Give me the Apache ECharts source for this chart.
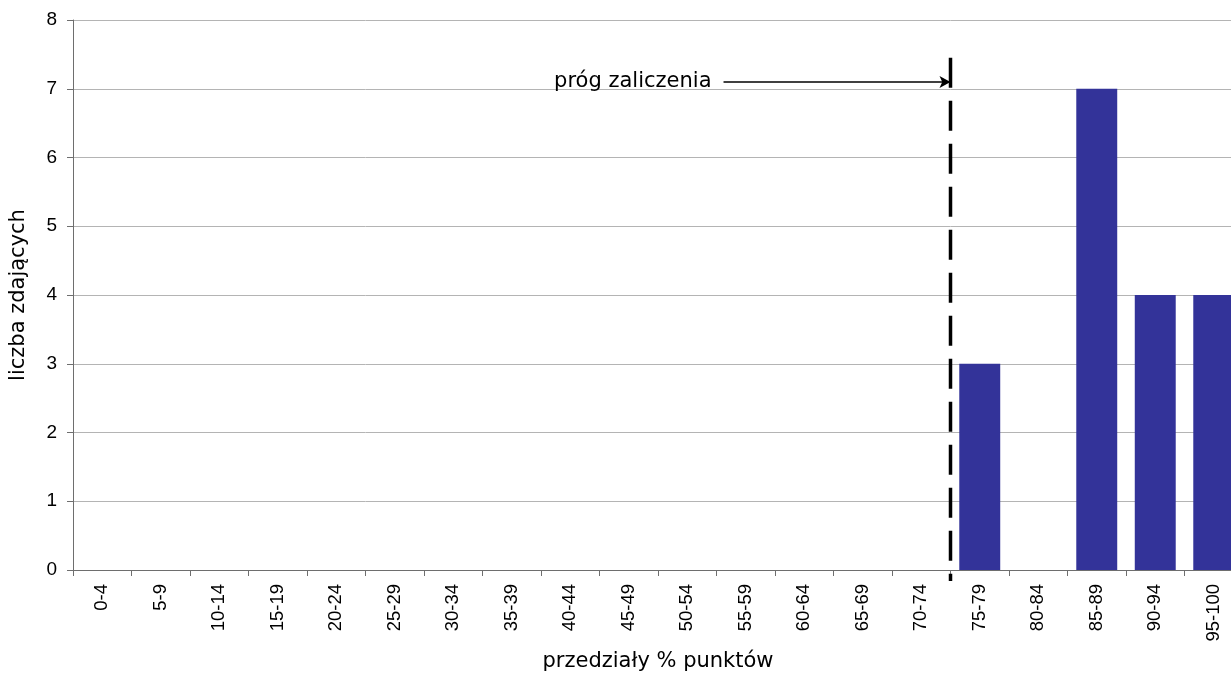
<!DOCTYPE html>
<html>
<head>
<meta charset="utf-8">
<script src="https://cdn.jsdelivr.net/npm/echarts@6/dist/echarts.min.js"></script>
<style>
html,body{margin:0;padding:0;background:#fff;overflow:hidden;width:1231px;height:677px;}
#chart{width:1243px;height:677px;}
</style>
</head>
<body>
<div id="chart"></div>
<script>
// Data
const categories = ['0-4','5-9','10-14','15-19','20-24','25-29','30-34','35-39','40-44','45-49','50-54','55-59','60-64','65-69','70-74','75-79','80-84','85-89','90-94','95-100'];
const counts = [null,null,null,null,null,null,null,null,null,null,null,null,null,null,null,3,null,7,4,4];
const yTicks = [0,1,2,3,4,5,6,7,8];
// Threshold annotation (position in category units on a 0-20 scale, value units on y)
const thresholdX = 15;
const thresholdLine = [[thresholdX, 7.45], [thresholdX, -0.16]];
const arrowStart = [11.12, 7.1];
const arrowEnd = [thresholdX, 7.1];
const arrowLabel = 'próg zaliczenia';

const chart = echarts.init(document.getElementById('chart'), null, {renderer:'canvas', width: 1243, height: 677});
const axisColor = '#6e6e6e';
const font = 'Liberation Sans';
const wideFont = 'DejaVu Sans';
chart.setOption({
  animation: false,
  backgroundColor: '#ffffff',
  grid: {left: 72, top: 20, width: 1171, height: 552, containLabel: false},
  xAxis: [{
    type: 'category',
    data: categories,
    boundaryGap: true,
    name: 'przedziały % punktów',
    nameLocation: 'middle',
    nameGap: 81,
    nameTextStyle: {fontFamily: wideFont, fontSize: 21, color: '#000'},
    axisLine: {lineStyle: {color: axisColor, width: 1}},
    axisTick: {show: true, length: 6, lineStyle: {color: axisColor}},
    axisLabel: {rotate: 90, margin: 14, fontFamily: font, fontSize: 18.5, color: '#000', interval: 0},
    splitLine: {show: false}
  }, {
    type: 'value',
    min: 0,
    max: categories.length,
    show: false
  }],
  yAxis: {
    type: 'value',
    min: 0,
    max: 8,
    interval: 1,
    name: 'liczba zdających',
    nameLocation: 'middle',
    nameGap: 44,
    nameTextStyle: {fontFamily: wideFont, fontSize: 21, color: '#000'},
    axisLine: {show: true, lineStyle: {color: axisColor, width: 1}},
    axisTick: {show: true, length: 6, lineStyle: {color: axisColor}},
    axisLabel: {margin: 16, fontFamily: font, fontSize: 19, color: '#000',
      formatter: v => yTicks.includes(v) ? String(v) : ''},
    splitLine: {show: true, lineStyle: {color: '#b4b4b4', width: 1}}
  },
  series: [{
    type: 'bar',
    data: counts,
    xAxisIndex: 0,
    barCategoryGap: '30%',
    itemStyle: {color: '#333399'}
  }, {
    type: 'line',
    xAxisIndex: 1,
    data: thresholdLine,
    clip: false,
    symbol: 'none',
    lineStyle: {color: '#000', width: 3.5, type: [30, 13]},
    z: 5,
    markLine: {
      silent: true,
      symbol: ['none', 'arrow'],
      symbolSize: [9, 11],
      lineStyle: {color: '#000', width: 1.5, type: 'solid'},
      label: {show: true, position: 'start', formatter: arrowLabel, distance: 12,
        fontFamily: wideFont, fontSize: 21, color: '#000'},
      data: [[{coord: arrowStart}, {coord: arrowEnd}]]
    }
  }]
});
</script>
</body>
</html>
